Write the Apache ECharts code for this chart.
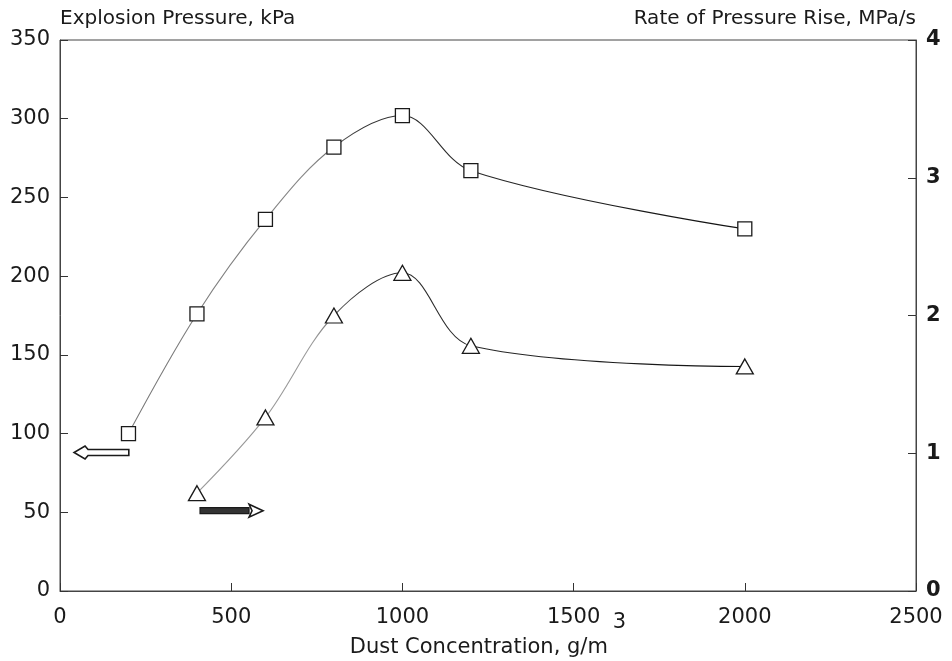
<!DOCTYPE html>
<html>
<head>
<meta charset="utf-8">
<script src="https://cdn.jsdelivr.net/npm/echarts@6/dist/echarts.min.js"></script>
<style>html,body{margin:0;padding:0;background:#fff}#c{width:952px;height:661px}</style>
</head>
<body>
<div id="c"></div>
<script>
// Data
const concentration = [200, 400, 600, 800, 1000, 1200, 2000];
const explosionPressure = [100, 176, 236, 282, 302, 267, 230];          // kPa (left axis)
const rateConcentration = [400, 600, 800, 1000, 1200, 2000];
const pressureRiseRate = [0.71, 1.26, 2.0, 2.31, 1.78, 1.63];          // MPa/s (right axis)
const xTicks = [0, 500, 1000, 1500, 2000, 2500];
const leftTicks = [0, 50, 100, 150, 200, 250, 300, 350];
const rightTicks = [0, 1, 2, 3, 4];

const FONT = '"DejaVu Sans", "Liberation Sans", Arial, sans-serif';
const INK = '#1a1a1a';

function arrowRender(params, api) {
  const x1 = api.value(0), x2 = api.value(1), y = api.value(2), filled = api.value(3);
  const tail = api.coord([x1, y]);
  const tip = api.coord([x2, y]);
  const dir = tip[0] > tail[0] ? 1 : -1;
  const headLen = 14, headHalf = 6.5, shaftHalf = 3;
  const neck = tip[0] - dir * headLen;
  const cy = tip[1];
  const children = [];
  if (filled) {
    children.push({
      type: 'polygon',
      shape: { points: [[tail[0], cy - shaftHalf], [neck, cy - shaftHalf], [neck, cy + shaftHalf], [tail[0], cy + shaftHalf]] },
      style: { fill: '#333', stroke: INK, lineWidth: 1.2 }
    });
    children.push({
      type: 'polygon',
      shape: { points: [[neck, cy - headHalf], [tip[0], cy], [neck, cy + headHalf], [neck + dir * 3, cy]] },
      style: { fill: '#fff', stroke: INK, lineWidth: 1.6 }
    });
  } else {
    children.push({
      type: 'polygon',
      shape: { points: [
        [tail[0], cy - shaftHalf], [neck, cy - shaftHalf], [neck + dir * 3, cy - headHalf],
        [tip[0], cy], [neck + dir * 3, cy + headHalf], [neck, cy + shaftHalf], [tail[0], cy + shaftHalf]
      ] },
      style: { fill: '#fff', stroke: INK, lineWidth: 1.6 }
    });
  }
  return { type: 'group', children: children };
}

const chart = echarts.init(document.getElementById('c'), null, { renderer: 'canvas' });
chart.setOption({
  animation: false,
  backgroundColor: '#fff',
  grid: { left: 60, right: 36, top: 40, bottom: 70, show: true, borderColor: '#444', borderWidth: 1,
          containLabel: false, outerBoundsMode: 'none' },
  xAxis: {
    type: 'value', min: xTicks[0], max: xTicks[xTicks.length - 1], interval: 500,
    name: '{a|Dust Concentration, g/m}{sup|3}',
    nameLocation: 'middle', nameGap: 21, nameMoveOverlap: false,
    nameTextStyle: {
      rich: {
        a: { fontFamily: FONT, fontSize: 21, color: INK, lineHeight: 46, verticalAlign: 'bottom' },
        sup: { fontFamily: FONT, fontSize: 21, color: INK, lineHeight: 46, verticalAlign: 'top', padding: [0, 0, 0, 5] }
      }
    },
    axisLine: { lineStyle: { color: '#444', width: 1 } },
    axisTick: { inside: true, length: 8, lineStyle: { color: '#333' } },
    axisLabel: { fontFamily: FONT, fontSize: 21, color: INK, margin: 16,
      formatter: v => xTicks.includes(v) ? String(v) : '' },
    splitLine: { show: false }
  },
  yAxis: [
    {
      type: 'value', min: leftTicks[0], max: leftTicks[leftTicks.length - 1], interval: 50,
      position: 'left',
      name: 'Explosion Pressure, kPa', nameLocation: 'end', nameGap: 11, nameMoveOverlap: false,
      nameTextStyle: { fontFamily: FONT, fontSize: 20, color: INK, align: 'left' },
      axisLine: { show: true, lineStyle: { color: '#444', width: 1 } },
      axisTick: { show: true, inside: true, length: 8, lineStyle: { color: '#333' } },
      axisLabel: { fontFamily: FONT, fontSize: 21, color: INK, margin: 10,
        formatter: v => leftTicks.includes(v) ? String(v) : '' },
      splitLine: { show: false }
    },
    {
      type: 'value', min: rightTicks[0], max: rightTicks[rightTicks.length - 1], interval: 1,
      position: 'right',
      name: 'Rate of Pressure Rise, MPa/s', nameLocation: 'end', nameGap: 11, nameMoveOverlap: false,
      nameTextStyle: { fontFamily: FONT, fontSize: 20, color: INK, align: 'right' },
      axisLine: { show: true, lineStyle: { color: '#444', width: 1 } },
      axisTick: { show: true, inside: true, length: 8, lineStyle: { color: '#333' } },
      axisLabel: { fontFamily: FONT, fontSize: 21, fontWeight: 'bold', color: INK, margin: 10,
        formatter: v => rightTicks.includes(v) ? String(v) : '' },
      splitLine: { show: false }
    }
  ],
  series: [
    {
      name: 'Explosion Pressure', type: 'line', yAxisIndex: 0, smooth: 0.35,
      data: concentration.map((x, i) => [x, explosionPressure[i]]),
      symbol: 'rect', symbolSize: 14,
      itemStyle: { color: '#fff', borderColor: INK, borderWidth: 1.3 },
      lineStyle: { width: 1.1, color: new echarts.graphic.LinearGradient(0, 0, 1, 0, [
        { offset: 0, color: '#777' }, { offset: 0.3, color: '#888' }, { offset: 0.38, color: '#333' }, { offset: 1, color: '#111' }
      ]) },
      z: 3
    },
    {
      name: 'Rate of Pressure Rise', type: 'line', yAxisIndex: 1, smooth: 0.35,
      data: rateConcentration.map((x, i) => [x, pressureRiseRate[i]]),
      symbol: 'triangle', symbolSize: [17, 15],
      itemStyle: { color: '#fff', borderColor: INK, borderWidth: 1.3 },
      lineStyle: { width: 1.1, color: new echarts.graphic.LinearGradient(0, 0, 1, 0, [
        { offset: 0, color: '#999' }, { offset: 0.22, color: '#999' }, { offset: 0.3, color: '#333' }, { offset: 1, color: '#111' }
      ]) },
      z: 3
    },
    {
      type: 'custom', yAxisIndex: 0, renderItem: arrowRender, silent: true,
      encode: { x: [0, 1], y: 2 },
      data: [[201, 41, 88, 0], [409, 593, 51, 1]],
      z: 4
    }
  ]
});
</script>
</body>
</html>
